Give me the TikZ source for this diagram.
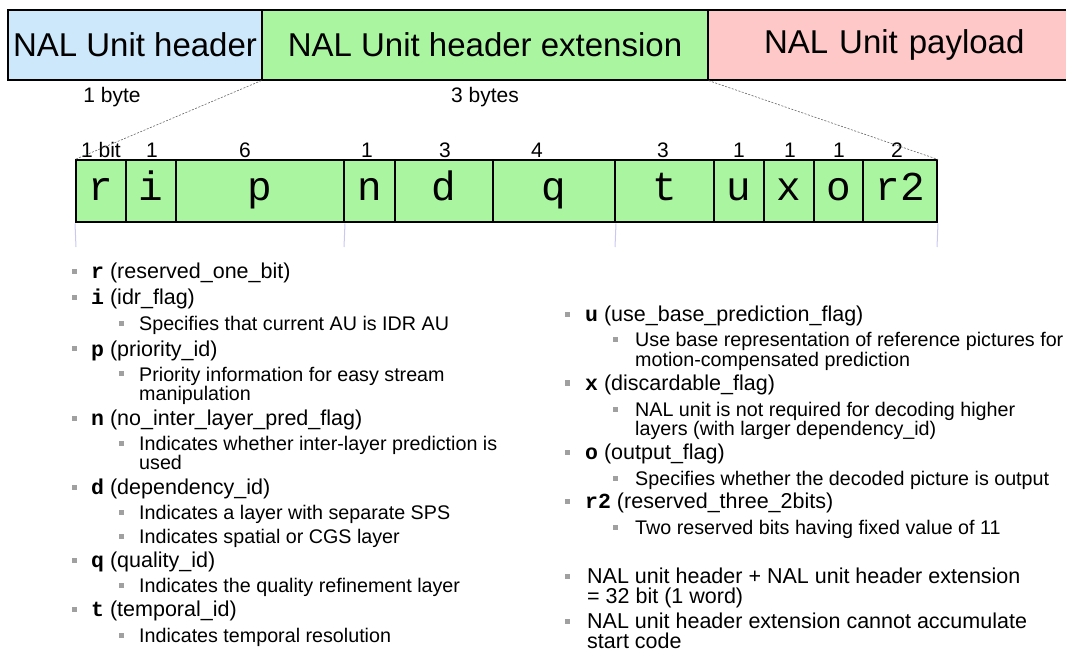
\documentclass[tikz,border=0pt]{standalone}
\usepackage{fontspec}
\setmainfont{Liberation Sans}
\setmonofont{Liberation Mono}
\definecolor{hdrblue}{RGB}{204,232,250}
\definecolor{extgreen}{RGB}{170,246,160}
\definecolor{paypink}{RGB}{255,200,200}
\definecolor{ticklav}{RGB}{200,200,240}
\definecolor{bulgray}{RGB}{160,160,160}
\tikzset{
  topbox/.style={draw=black, line width=1.2pt, inner sep=0pt, minimum height=70pt, font=\fontsize{33}{36}\selectfont},
  bitbox/.style={draw=black, line width=2pt, fill=extgreen, inner sep=0pt, minimum height=62pt, text height=24pt, text depth=6pt, font=\ttfamily\fontsize{41}{44}\selectfont},
  bitnum/.style={inner sep=0pt, anchor=base, font=\fontsize{21}{24}\selectfont},
  bytelbl/.style={inner sep=0pt, anchor=base, font=\fontsize{21}{24}\selectfont},
  itemtxt/.style={inner sep=0pt, anchor=base west, align=left, font=\fontsize{21.5}{20.5}\selectfont},
  subtxt/.style={inner sep=0pt, anchor=base west, align=left, font=\fontsize{19.7}{19.5}\selectfont},
  bul/.style={fill=bulgray, inner sep=0pt, minimum size=5pt},
  tick/.style={draw=ticklav, line width=1pt},
  zoomline/.style={draw=black!60, dashed, dash pattern=on 2pt off 1.5pt, line width=0.6pt}
}
\newcommand{\fld}[1]{\textbf{\ttfamily #1}}
\begin{document}
\begin{tikzpicture}[x=1pt,y=-1pt]
\useasboundingbox (0,0) rectangle (1066,652);
% top boxes
\node[topbox, fill=hdrblue, minimum width=254pt] (hdr) at (135,45) {NAL Unit header};
\node[topbox, fill=extgreen, minimum width=446pt] (ext) at (485,45) {NAL Unit header extension};
\node[topbox, fill=paypink, minimum width=400pt, text width=400pt, align=left] (pay) at (908,45) {\hspace*{56pt}NAL Unit payload};
\node[bytelbl] (b1) at (112,103) {1 byte};
\node[bytelbl] (b3) at (485,103) {3 bytes};
% bit boxes
\node[bitbox, minimum width=50pt] (r) at (101,191.5) {r};
\node[bitbox, minimum width=50pt] (i) at (151,191.5) {i};
\node[bitbox, minimum width=168pt] (p) at (260,191.5) {p};
\node[bitbox, minimum width=51pt] (n) at (369.5,191.5) {n};
\node[bitbox, minimum width=98pt] (d) at (444,191.5) {d};
\node[bitbox, minimum width=122pt] (q) at (554,191.5) {q};
\node[bitbox, minimum width=99pt] (t) at (664.5,191.5) {t};
\node[bitbox, minimum width=50pt] (u) at (739,191.5) {u};
\node[bitbox, minimum width=50pt] (x) at (789,191.5) {x};
\node[bitbox, minimum width=49pt] (o) at (838.5,191.5) {o};
\node[bitbox, minimum width=74pt] (r2) at (900,191.5) {r2};
% bit counts
\node[bitnum] (nr) at (101,158) {1 bit};
\node[bitnum] (ni) at (152,158) {1};
\node[bitnum] (np) at (245,158) {6};
\node[bitnum] (nn) at (367,158) {1};
\node[bitnum] (nd) at (445,158) {3};
\node[bitnum] (nq) at (537,158) {4};
\node[bitnum] (nt) at (663,158) {3};
\node[bitnum] (nu) at (739,158) {1};
\node[bitnum] (nx) at (790,158) {1};
\node[bitnum] (no) at (839,158) {1};
\node[bitnum] (nr2) at (897,158) {2};
% zoom lines
\draw[zoomline] (ext.south west) -- (r.north west);
\draw[zoomline] (ext.south east) -- (r2.north east);
% byte ticks
\coordinate (t0) at (76,247);
\coordinate (t1) at (344,247);
\coordinate (t2) at (615,247);
\coordinate (t3) at (937,247);
\draw[tick] (r.south west) -- (t0);
\draw[tick] (p.south east) -- (t1);
\draw[tick] (q.south east) -- (t2);
\draw[tick] (r2.south east) -- (t3);
% left column
\foreach \y in {279,305,356,425,494,567,616} \node[bul] at (74.5,\y-7) {};
\foreach \y in {331,381,450,519,543,592,642} \node[bul] at (121,\y-7) {};
\node[itemtxt] (L1) at (91,279) {\fld{r} (reserved\_one\_bit)};
\node[itemtxt] (L2) at (91,305) {\fld{i} (idr\_flag)};
\node[subtxt] (L3) at (139,331) {Specifies that current AU is IDR AU};
\node[itemtxt] (L4) at (91,356) {\fld{p} (priority\_id)};
\node[subtxt] (L5) at (139,400.5) {Priority information for easy stream\\manipulation};
\node[itemtxt] (L6) at (91,425) {\fld{n} (no\_inter\_layer\_pred\_flag)};
\node[subtxt] (L7) at (139,469.5) {Indicates whether inter-layer prediction is\\used};
\node[itemtxt] (L8) at (91,494) {\fld{d} (dependency\_id)};
\node[subtxt] (L9) at (139,519) {Indicates a layer with separate SPS};
\node[subtxt] (L10) at (139,543) {Indicates spatial or CGS layer};
\node[itemtxt] (L11) at (91,567) {\fld{q} (quality\_id)};
\node[subtxt] (L12) at (139,592) {Indicates the quality refinement layer};
\node[itemtxt] (L13) at (91,616) {\fld{t} (temporal\_id)};
\node[subtxt] (L14) at (139,642) {Indicates temporal resolution};
% right column
\foreach \y in {322,390,459,508,583,628} \node[bul] at (567,\y-7) {};
\foreach \y in {347,416,485,534} \node[bul] at (615,\y-7) {};
\node[itemtxt] (R1) at (585,322) {\fld{u} (use\_base\_prediction\_flag)};
\node[subtxt] (R2) at (635,366.5) {Use base representation of reference pictures for\\motion-compensated prediction};
\node[itemtxt] (R3) at (585,390) {\fld{x} (discardable\_flag)};
\node[subtxt] (R4) at (635,435.5) {NAL unit is not required for decoding higher\\layers (with larger dependency\_id)};
\node[itemtxt] (R5) at (585,459) {\fld{o} (output\_flag)};
\node[subtxt] (R6) at (635,485) {Specifies whether the decoded picture is output};
\node[itemtxt] (R7) at (585,508) {\fld{r2} (reserved\_three\_2bits)};
\node[subtxt] (R8) at (635,534) {Two reserved bits having fixed value of 11};
\node[itemtxt] (R9) at (587,603.5) {NAL unit header + NAL unit header extension\\= 32 bit (1 word)};
\node[itemtxt] (R10) at (587,648.5) {NAL unit header extension cannot accumulate\\start code};
\end{tikzpicture}
\end{document}
